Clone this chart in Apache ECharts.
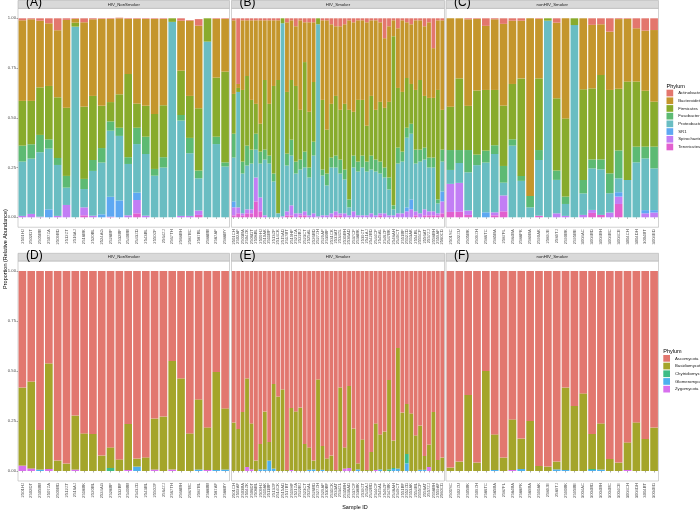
<!DOCTYPE html>
<html><head><meta charset="utf-8">
<script src="https://cdn.jsdelivr.net/npm/echarts@6/dist/echarts.min.js"></script>
<style>html,body{margin:0;padding:0;background:#fff}#c{width:700px;height:511px}</style>
</head><body><div id="c"></div>
<script>
// ---------- categories ----------
const samplesA = ['2501HJ','2502DT','2505BB','2507ZA','2509BD','2512ZT','2516AJ','2518BK','2520BL','2524AG','2528BP','2532BF','2540BB','2543ZD','2543BL','2550ZF','2564ZJ','2567TH','2568BH','2587BC','2587BL','2588BB','2587AF','2588BY'];
const samplesB = ['2501CH','2502AF','2503BA','2504ZK','2506DT','2508BL','2509HJ','2510AK','2511BP','2513ZF','2514CK','2515AD','2517BT','2519HF','2521ZA','2522BJ','2523CT','2525AL','2526BD','2527ZH','2529AP','2530BF','2531CK','2533AT','2534ZL','2535BH','2536AD','2537CF','2538BK','2539ZT','2541AJ','2542BD','2544CF','2545AL','2546ZP','2547BK','2548AH','2549CT','2551BF','2552ZD','2553AK','2554BL','2555CP','2556AT','2557ZJ','2558BH','2559AF','2560CD'];
const samplesC = ['2501SC','2502ZU','2505BK','2509ZH','2586TC','2585BA','2587FL','2584BA','2588PK','2589BA','2590AK','2589JE','2589TJ','2590BK','2595BE','3004AC','3004BD','3004BH','3004BC','3004CE','3004CH','3004DH','3004BT','3004ED'];
const panelTitles = ['HIV_NonSmoker','HIV_Smoker','nonHIV_Smoker'];
const panelTags = [['(A)','(B)','(C)'],['(D)','(E)','(F)']];
const bactPhyla = ['Actinobacteria','Bacteroidetes','Firmicutes','Fusobacteria','Proteobacteria','SR1','Spirochaetes','Tenericutes'];
const fungPhyla = ['Ascomycota','Basidiomycota','Chytridiomycota','Glomeromycota','Zygomycota'];
const yTicks = [0, 0.25, 0.5, 0.75, 1];

// ---------- bacteria ----------
const bactA = {
  Actinobacteria:[.01,.005,.012,.025,.06,.008,.003,.02,.005,.003,.003,.003,.003,.003,.003,.003,.003,0,.012,.003,.033,0,.003,.003],
  Bacteroidetes:[.405,.41,.335,.315,.337,.441,.019,.424,.385,.437,.418,.382,.277,.426,.437,.478,.434,0,.251,.378,.415,0,.295,.265],
  Firmicutes:[.225,.218,.239,.268,.305,.343,.02,.363,.322,.212,.097,.168,.418,.121,.155,.276,.261,.018,.223,.211,.313,.117,.297,.456],
  Fusobacteria:[.08,.072,.087,.047,.035,.059,0,.051,.055,.073,.047,.041,.034,.082,.087,.034,.052,0,.028,.077,.039,0,.037,.021],
  Proteobacteria:[.273,.278,.324,.305,.256,.087,.958,.092,.225,.26,.332,.324,.258,.244,.31,.209,.25,.982,.479,.315,.162,.883,.368,.255],
  SR1:[0,0,0,.04,0,0,0,0,0,.015,.1,.085,0,.037,0,0,0,0,0,0,0,0,0,0],
  Spirochaetes:[.007,.017,.003,0,.007,.062,0,.04,.008,0,0,0,.01,.067,.008,0,0,0,.007,.007,.022,0,0,0],
  Tenericutes:[0,0,0,0,0,0,0,.01,0,0,.003,0,0,.02,0,0,0,0,0,0,.012,0,0,0]
};
const bactB = {
  Actinobacteria:[.01,.33,.01,.01,.01,.01,.01,.01,.01,.01,.01,0,.02,.01,.04,.01,.02,.02,.02,0,.01,.01,.03,.04,.04,.03,.01,.02,.01,.01,.02,.01,.01,.02,.10,.04,.01,.05,.01,.02,.03,.01,.01,.04,.02,.15,.01,.01],
  Bacteroidetes:[.37,.02,.35,.28,.40,.42,.52,.30,.42,.33,.30,0,.35,.30,.30,.45,.20,.45,.30,0,.40,.55,.40,.35,.42,.40,.45,.45,.40,.40,.52,.38,.45,.40,.35,.38,.08,.30,.36,.28,.30,.35,.30,.35,.38,.25,.35,.45],
  Firmicutes:[.20,.02,.36,.35,.25,.15,.14,.35,.26,.44,.67,.025,.31,.30,.38,.25,.45,.28,.30,.03,.35,.22,.27,.30,.25,.33,.45,.22,.31,.28,.18,.30,.25,.30,.30,.38,.85,.30,.30,.25,.20,.30,.35,.26,.30,.30,.55,.20],
  Fusobacteria:[.12,0,.06,.10,.07,.08,.06,.05,.04,.04,0,0,.06,.08,.06,.05,.08,.05,.07,0,.03,.06,.05,.06,.07,.05,.04,.06,.05,.06,.05,.07,.06,.06,.05,.06,.02,.08,.05,.05,.05,.07,.06,.06,.05,.05,.02,.06],
  Proteobacteria:[.22,.58,.20,.22,.23,.14,.17,.28,.27,.18,.02,.97,.23,.25,.20,.22,.22,.19,.29,.965,.20,.15,.23,.22,.20,.17,.04,.22,.22,.24,.22,.22,.22,.20,.18,.13,.03,.25,.26,.35,.33,.24,.26,.25,.22,.22,.05,.15],
  SR1:[.03,0,0,0,0,0,0,0,0,0,0,0,0,0,0,0,0,0,0,0,0,0,0,0,0,0,0,0,0,0,0,0,0,0,0,0,0,0,0,.02,.05,0,0,0,0,0,0,.05],
  Spirochaetes:[.04,.03,.01,.02,.02,.12,.07,.01,0,0,0,.005,.02,.05,.02,.01,.02,.01,.02,.005,.01,.01,.02,.02,.01,.02,.01,.03,.01,.01,.01,.02,.01,.01,.02,.01,.01,.02,.02,.03,.04,.02,.02,.03,.02,.02,.01,.06],
  Tenericutes:[.01,.02,.01,.02,.02,.08,.03,0,0,0,0,0,.01,.01,0,.01,.01,0,0,0,0,0,0,.01,.01,0,0,0,0,0,0,0,0,.01,0,0,0,0,0,0,0,.01,0,.01,.01,.01,.01,.02]
};
const bactC = {
  Actinobacteria:[0,0,.005,.003,.038,.005,.028,.012,.012,0,.003,0,.022,0,0,0,.033,.03,.067,.004,.003,.05,.062,.059],
  Bacteroidetes:[.444,.302,.435,.36,.322,.355,.411,.318,.29,.893,.299,0,.38,.503,0,.357,.319,.255,.293,.35,.315,.268,.302,.36],
  Firmicutes:[.218,.36,.222,.322,.305,.278,.303,.278,.49,0,.36,.012,.363,.393,.034,.455,.357,.424,.419,.31,.494,.327,.281,.226],
  Fusobacteria:[.1,.065,.112,.053,.06,.044,.084,.032,.025,.057,.05,0,.047,.037,0,.068,.045,.05,.1,.14,0,.079,.059,.109],
  Proteobacteria:[.07,.1,.192,.262,.25,.293,.064,.36,.183,.05,.28,.988,.168,.06,.966,.108,.209,.229,.097,.07,.188,.276,.26,.21],
  SR1:[0,0,0,0,.025,0,0,0,0,0,0,0,0,0,0,0,0,0,0,.022,0,0,.016,.012],
  Spirochaetes:[.141,.145,.022,0,0,.015,.08,0,0,0,0,0,.02,.007,0,.012,.015,0,.024,.037,0,0,.02,.024],
  Tenericutes:[.027,.028,.012,0,0,.01,.03,0,0,0,.008,0,0,0,0,0,.022,.012,0,.067,0,0,0,0]
};

// ---------- fungi ----------
const fungD = {
  Ascomycota:[.583,.552,.795,.462,.948,.963,.723,.812,.815,.923,.882,.942,.765,.938,.932,.738,.728,.45,.537,.812,.642,.782,.505,.687],
  Basidiomycota:[.39,.435,.198,.528,.052,.037,.27,.188,.185,.077,.103,.058,.23,.04,.068,.255,.272,.543,.463,.188,.351,.213,.49,.306],
  Chytridiomycota:[0,0,0,0,0,0,0,0,0,0,.015,0,0,0,0,0,0,0,0,0,0,0,0,0],
  Glomeromycota:[0,0,.007,0,0,0,0,0,0,0,0,0,0,.022,0,0,0,0,0,0,.007,0,.005,.007],
  Zygomycota:[.027,.013,0,.01,0,0,.007,0,0,0,0,0,.005,0,0,.007,0,.007,0,0,0,.005,0,0]
};
const fungE = {
  Ascomycota:[.758,.79,.705,.537,.762,.948,.865,.703,.855,.565,.628,.592,.995,.685,.702,.683,.865,.882,.948,.542,.875,.937,.923,.995,.582,.882,.575,.788,.962,.842,.995,.905,.762,.817,.803,.545,.848,.385,.708,.665,.712,.822,.773,.925,.868,.705,.945,.933],
  Basidiomycota:[.242,.21,.295,.443,.23,.052,.127,.289,.093,.423,.372,.408,.005,.31,.298,.317,.135,.112,.044,.458,.119,.063,.077,.005,.418,.106,.41,.212,.03,.158,.005,.095,.233,.175,.197,.447,.137,.603,.292,.25,.288,.178,.221,.069,.112,.295,.055,.067],
  Chytridiomycota:[0,0,0,0,0,0,0,0,0,0,0,0,0,0,0,0,0,0,0,0,0,0,0,0,0,0,0,0,0,0,0,0,0,0,0,.008,.005,0,0,.047,0,0,0,0,0,0,0,0],
  Glomeromycota:[0,0,0,0,0,0,.008,.008,.052,.012,0,0,0,0,0,0,0,.006,.008,0,.006,0,0,0,0,0,0,0,.008,0,0,0,0,.008,0,0,.01,.012,0,.038,0,0,.006,.006,0,0,0,0],
  Zygomycota:[0,0,0,.02,.008,0,0,0,0,0,0,0,0,.005,0,0,0,0,0,0,0,0,0,0,0,.012,.015,0,0,0,0,0,.005,0,0,0,0,0,0,0,0,0,0,0,.02,0,0,0]
};
const fungF = {
  Ascomycota:[.983,.953,.62,.958,.5,.817,.933,.742,.838,.75,.975,.978,.953,.583,.675,.612,.815,.762,.94,.958,.857,.757,.84,.783],
  Basidiomycota:[.017,.047,.38,.042,.5,.178,.067,.253,.152,.25,.025,.022,.039,.412,.325,.388,.175,.231,.06,.042,.138,.243,.16,.217],
  Chytridiomycota:[0,0,0,0,0,0,0,0,0,0,0,0,0,0,0,0,.005,0,0,0,0,0,0,0],
  Glomeromycota:[0,0,0,0,0,.005,0,0,.01,0,0,0,.008,.005,0,0,.005,.007,0,0,0,0,0,0],
  Zygomycota:[0,0,0,0,0,0,0,.005,0,0,0,0,0,0,0,0,0,0,0,0,.005,0,0,0]
};

// ---------- styling ----------
const colors = {
  Actinobacteria:'#E3766D', Bacteroidetes:'#C4962C', Firmicutes:'#88AB2C', Fusobacteria:'#5DBA73',
  Proteobacteria:'#69BDC2', SR1:'#5EA8F2', Spirochaetes:'#C27EF5', Tenericutes:'#E260CF',
  Ascomycota:'#E2776F', Basidiomycota:'#A4A52A', Chytridiomycota:'#3DBC86', Glomeromycota:'#4DB0EE', Zygomycota:'#D870EE'
};
const FONT = 'Liberation Sans, Arial, sans-serif';
const cols = [{l:18, w:211.5},{l:231.5, w:213},{l:446, w:212.5}];
const rows = [{top:8.35, h:218.9, stripTop:0.5}, {top:261, h:220, stripTop:253.3}];

const samples = [samplesA, samplesB, samplesC];
const panelData = [[bactA, bactB, bactC],[fungD, fungE, fungF]];
const phylaRows = [bactPhyla, fungPhyla];

const grid = [], xAxis = [], yAxis = [], series = [], graphic = [];
let idx = 0;
for (let r = 0; r < 2; r++) {
  for (let c = 0; c < 3; c++) {
    const g = cols[c], rw = rows[r];
    grid.push({left:g.l, top:rw.top, width:g.w, height:rw.h, show:true, backgroundColor:'#fff', borderColor:'#B3B3B3', borderWidth:0.6, containLabel:false});
    xAxis.push({type:'category', gridIndex:idx, data:samples[c], boundaryGap:true,
      axisLine:{show:false}, splitLine:{show:false},
      axisTick:{show:true, alignWithLabel:true, length:1.5, lineStyle:{color:'#555', width:0.5}},
      axisLabel:{interval:0, rotate:90, fontSize:4.2, color:'#4D4D4D', margin:2, fontFamily:FONT}});
    yAxis.push({type:'value', gridIndex:idx, min:-0.05, max:1.05,
      axisLine:{show:false}, splitLine:{show:false},
      axisTick:{show:c===0, length:1.5, customValues:yTicks, lineStyle:{color:'#555', width:0.5}},
      axisLabel:{show:c===0, customValues:yTicks, formatter:v=>v.toFixed(2), fontSize:4.2, color:'#4D4D4D', margin:2, fontFamily:FONT}});
    const phyla = phylaRows[r];
    const data = panelData[r][c];
    for (let k = phyla.length - 1; k >= 0; k--) {
      const name = phyla[k];
      series.push({type:'bar', name:name, stack:'s'+idx, xAxisIndex:idx, yAxisIndex:idx,
        data:data[name], barCategoryGap:'13%', itemStyle:{color:colors[name]},
        emphasis:{disabled:true}, silent:true, animation:false});
    }
    graphic.push({type:'rect', shape:{x:g.l, y:rw.stripTop, width:g.w, height:rw.top - rw.stripTop},
      style:{fill:'#D9D9D9', stroke:'#B3B3B3', lineWidth:0.6}, silent:true});
    graphic.push({type:'text', x:g.l + g.w/2, y:(rw.stripTop + rw.top)/2,
      style:{text:panelTitles[c], fill:'#1A1A1A', fontSize:4.3, fontFamily:FONT, textAlign:'center', textVerticalAlign:'middle'}, silent:true});
    graphic.push({type:'text', x:g.l + 8, y:rw.stripTop - 4, z:100,
      style:{text:panelTags[r][c], fill:'#000', fontSize:12, fontFamily:FONT, textAlign:'left', textVerticalAlign:'top'}, silent:true});
    idx++;
  }
}
graphic.push({type:'text', x:5, y:249, rotation:Math.PI/2,
  style:{text:'Proportion (Relative Abundance)', fill:'#000', fontSize:5.5, fontFamily:FONT, textAlign:'center', textVerticalAlign:'middle'}, silent:true});
graphic.push({type:'text', x:355, y:507.5,
  style:{text:'Sample ID', fill:'#000', fontSize:5.5, fontFamily:FONT, textAlign:'center', textVerticalAlign:'middle'}, silent:true});
graphic.push({type:'text', x:666.5, y:86,
  style:{text:'Phylum', fill:'#000', fontSize:5.5, fontFamily:FONT, textAlign:'left', textVerticalAlign:'middle'}, silent:true});
graphic.push({type:'text', x:663.3, y:351,
  style:{text:'Phylum', fill:'#000', fontSize:5.5, fontFamily:FONT, textAlign:'left', textVerticalAlign:'middle'}, silent:true});

const legendCommon = {orient:'vertical', itemWidth:6.7, itemHeight:6.7, itemGap:1, padding:0, icon:'rect',
  selectedMode:false, textStyle:{fontSize:4.3, color:'#1A1A1A', fontFamily:FONT}};
const chart = echarts.init(document.getElementById('c'), null, {renderer:'canvas'});
chart.setOption({
  animation:false,
  backgroundColor:'#fff',
  grid, xAxis, yAxis, series, graphic,
  legend:[
    Object.assign({}, legendCommon, {data:bactPhyla, left:666.5, top:89.7}),
    Object.assign({}, legendCommon, {data:fungPhyla, left:663.3, top:355})
  ]
});
</script></body></html>
